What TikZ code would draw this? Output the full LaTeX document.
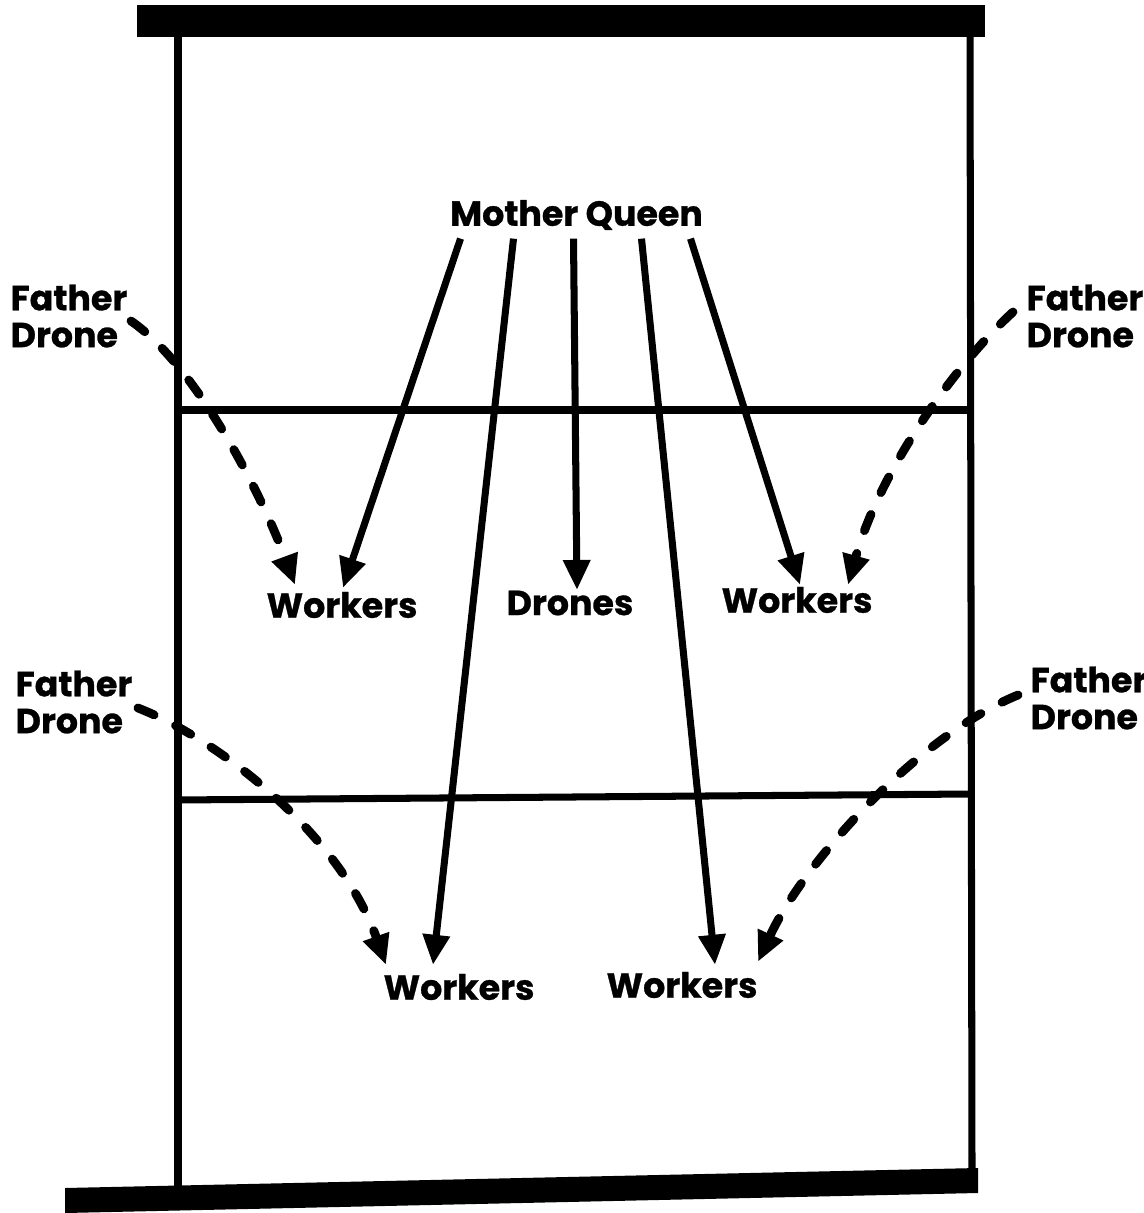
\documentclass[tikz,border=0pt]{standalone}
\usepackage{fontspec}
\newfontfamily\beefont{Poppins}[BoldFeatures={FakeBold=0.8}]
\usetikzlibrary{arrows.meta,calc}

\begin{document}
\begin{tikzpicture}[x=1cm,y=-1cm,
  lbl/.style={font=\beefont\bfseries\fontsize{9.9}{10.5}\selectfont,inner sep=0pt,align=left},
  wall/.style={line width=2pt},
  arr/.style={line width=2pt,-{Triangle[length=3mm,width=2.6mm]}},
  darr/.style={line width=2.5pt,line cap=round,dash pattern=on 5pt off 6.8pt,-{Triangle[length=3mm,width=2.6mm]}}]
\useasboundingbox (0,0) rectangle (11.43,12.13);
% hive body
\fill (1.37,0.05) rectangle (9.85,0.37);
\fill (0.65,11.88) -- (9.78,11.68) -- (9.78,11.93) -- (0.65,12.13) -- cycle;
\draw[wall] (1.78,0.37) -- (1.78,11.9);
\draw[wall] (9.70,0.37) -- (9.72,11.72);
\draw[wall] (1.78,4.10) -- (9.70,4.10);
\draw[wall] (1.75,8.00) -- (9.72,7.94);
% labels
\node[lbl] (queen) at (5.765,2.15) {Mother Queen};
\node[lbl,anchor=west] (fdtl) at (0.10,3.16) {Father\\Drone};
\node[lbl,anchor=west] (fdtr) at (10.26,3.16) {Father\\Drone};
\node[lbl,anchor=west] (fdbl) at (0.15,7.02) {Father\\Drone};
\node[lbl,anchor=west] (fdbr) at (10.30,6.98) {Father\\Drone};
\node[lbl] (wl) at (3.42,6.05) {Workers};
\node[lbl] (drones) at (5.70,6.03) {Drones};
\node[lbl] (wr) at (7.97,6.00) {Workers};
\node[lbl] (wbl) at (4.59,9.87) {Workers};
\node[lbl] (wbr) at (6.82,9.85) {Workers};
% queen lines
\draw[arr] ($(queen.south)+(-1.16,0.08)$) -- ($(wl.north)+(0.01,-0.035)$);
\draw[arr] ($(queen.south)+(-0.63,0.08)$) -- ($(wbl.north)+(-0.26,-0.085)$);
\draw[arr] ($(queen.south)+(-0.03,0.08)$) -- ($(drones.north)+(0.07,0)$);
\draw[arr] ($(queen.south)+(0.65,0.08)$) -- ($(wbr.north)+(0.33,-0.065)$);
\draw[arr] ($(queen.south)+(1.14,0.08)$) -- ($(wr.north)+(0.03,-0.015)$);
% drone lines
\draw[darr] ($(fdtl.east)+(0.03,0.05)$) .. controls (1.95,3.65) and (2.60,4.90) .. ($(wl.north)+(-0.47,-0.065)$);
\draw[darr] ($(fdtr.west)+(-0.13,-0.04)$) .. controls (9.55,3.65) and (8.80,4.70) .. ($(wr.north)+(0.51,-0.015)$);
\draw[darr] ($(fdbl.east)+(0.05,0.06)$) .. controls (2.20,7.40) and (3.40,8.35) .. ($(wbl.north)+(-0.73,-0.085)$);
\draw[darr] ($(fdbr.west)+(-0.12,-0.03)$) .. controls (9.20,7.35) and (8.05,8.60) .. ($(wbr.north)+(0.76,-0.095)$);
\end{tikzpicture}
\end{document}
